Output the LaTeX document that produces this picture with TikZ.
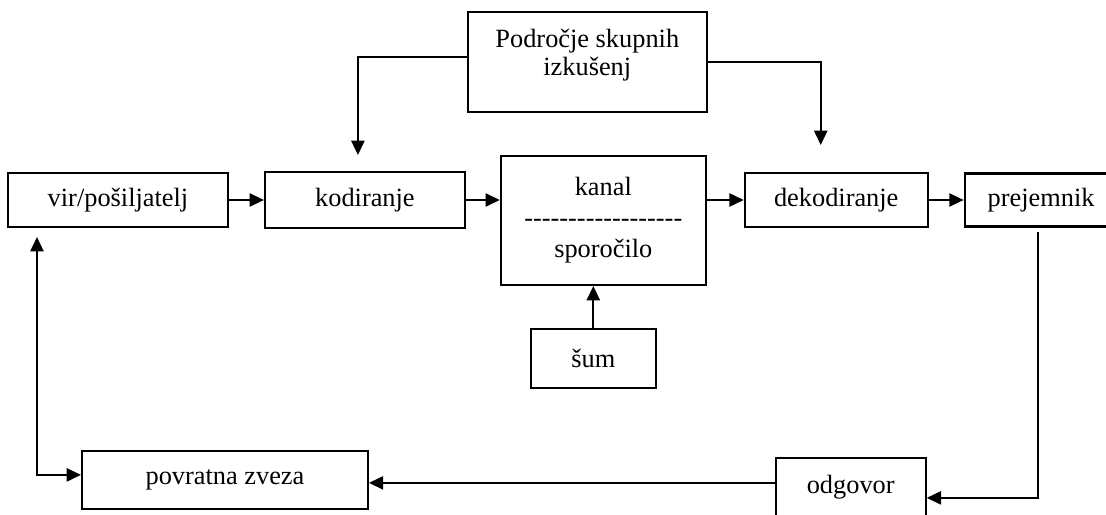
\documentclass[tikz,border=0pt]{standalone}
\usepackage{fontspec}
\setmainfont{Liberation Serif}
\usetikzlibrary{arrows.meta}
\tikzset{%
  box/.style={rectangle,draw,line width=0.95pt,align=center,inner sep=2pt,
    font=\fontsize{12}{12.7}\selectfont},
  flow/.style={-{Triangle[length=6.5pt,width=6pt]},line width=0.85pt},
  flowboth/.style={{Triangle[length=6.5pt,width=6pt]}-{Triangle[length=6.5pt,width=6pt]},
    line width=0.85pt}
}
\newcommand{\dashrow}{\foreach \k in {1,...,18}{-\kern0pt}}

\begin{document}
\begin{tikzpicture}[x=0.016cm,y=-0.016cm]
    \useasboundingbox (0,0) rectangle (1106,515);
    \node [box,minimum width=3.52cm,minimum height=0.864cm] (vir) at (118,200) {vir/pošiljatelj};
    \node [box,minimum width=3.2cm,minimum height=0.896cm,node distance=3.952cm] (kod) [right of=vir] {kodiranje};
    \node [box,minimum width=3.28cm,minimum height=2.064cm,node distance=3.816cm] (kanal)
      [right of=kod,yshift=-0.328cm] {kanal\\[1.4pt]\dashrow\\[1.4pt]sporočilo};
    \node [box,minimum width=2.928cm,minimum height=0.864cm,node distance=7.544cm] (dek) [right of=kod] {dekodiranje};
    \node [box,minimum width=2.448cm,minimum height=0.848cm,node distance=3.28cm] (prej) [right of=dek] {prejemnik};

    \node [box,minimum width=3.824cm,minimum height=1.6cm,node distance=2.536cm] (top)
      [above of=kanal,xshift=-0.256cm] {Področje skupnih\\izkušenj\\[-8pt]\strut};
    \node [box,minimum width=2cm,minimum height=0.944cm,node distance=2.208cm] (sum)
      [below of=kanal,xshift=-0.16cm] {šum};
    \node [box,minimum width=4.576cm,minimum height=0.928cm,node distance=4.48cm] (pov)
      [below of=vir,xshift=1.712cm] {povratna zveza};
    \node [box,minimum width=2.4cm,minimum height=0.928cm,node distance=4.592cm] (odg)
      [below of=dek,xshift=0.232cm] {odgovor};

    \coordinate (kodin) at ([xshift=-0.112cm,yshift=0.256cm]kod.north);
    \coordinate (dekin) at ([xshift=-0.248cm,yshift=0.432cm]dek.north);
    \coordinate (virin) at ([xshift=0.48cm,yshift=-0.144cm]vir.south west);
    \coordinate (prejout) at ([xshift=-0.056cm,yshift=-0.064cm]prej.south);

    \draw [flow] (vir) -- (kod);
    \draw [flow] (kod) -- (kod -| kanal.west);
    \draw [flow] (kanal.east |- dek) -- (dek);
    \draw [flow] (dek) -- (prej);
    \draw [flow] (sum) -- (sum.north |- kanal.south);
    \draw [flow] ([yshift=0.08cm]top.west) -| (kodin);
    \draw [flow] (top.east) -| (dekin);
    \draw [flowboth] (virin) |- ([yshift=0.08cm]pov.west);
    \draw [flow] (prejout) |- ([yshift=-0.176cm]odg.east);
    \draw [flow] ([yshift=0.064cm]odg.west) -- ([yshift=0.064cm]odg.west -| pov.east);
\end{tikzpicture}
\end{document}
